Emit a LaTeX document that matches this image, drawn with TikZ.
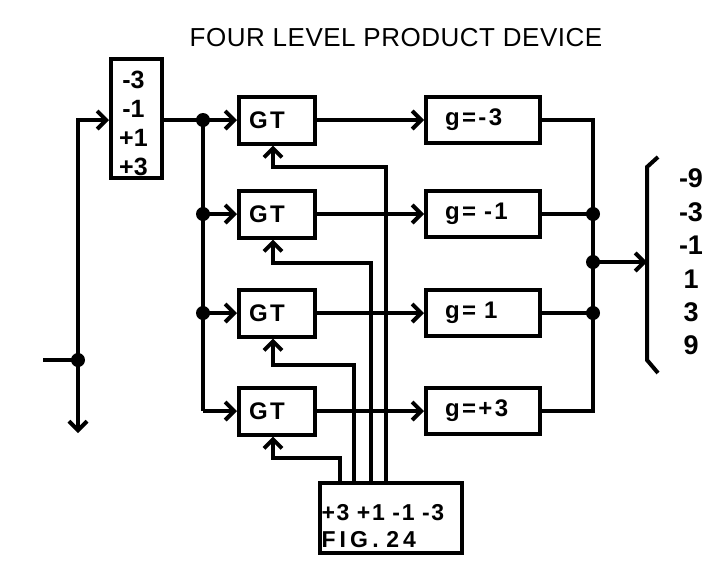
\documentclass[tikz,border=0pt]{standalone}
\usepackage{fontspec}
\setmainfont{Liberation Sans}
\usetikzlibrary{arrows.meta}
\begin{document}
\begin{tikzpicture}[x=1pt,y=-1pt, line width=4pt,
  box/.style={draw, rectangle, inner sep=0pt, line width=4pt, font=\bfseries\fontsize{24}{24}\selectfont\addfontfeature{LetterSpace=10}},
  gtbox/.style={box, minimum width=76pt, minimum height=47pt, text width=56pt, inner xsep=10pt, align=left},
  gbox/.style={box, minimum width=114pt, minimum height=46pt, text width=76pt, inner xsep=19pt, align=left},
  arr/.style={-{Straight Barb[length=9pt,width=18pt]}},
  dot/.style={circle, fill, inner sep=0pt, minimum size=14pt}]
\useasboundingbox (0,0) rectangle (714,563);
\node[anchor=base, font=\fontsize{26}{26}\selectfont] (title) at (396,46) {\addfontfeature{LetterSpace=2}FOUR LEVEL PRODUCT DEVICE};

% quantizer
\node[box, minimum width=51pt, minimum height=119pt,
  label={[yshift=-5pt, xshift=-3pt, align=center, font=\bfseries\fontsize{25}{29}\selectfont]center:{-3\\-1\\+1\\+3}}] (q) at (136.5,118.5) {};

% input
\coordinate (in) at (43,360);
\coordinate (j0) at (78,360);
\coordinate (c0) at (78,120);
\coordinate (out) at (78,433);
\draw (in) -- (j0);
\draw[arr] (j0) -- (out);
\draw[arr] (j0) -- (c0) -- (c0 -| q.west);
\node[dot] (d0) at (j0) {};

% GT boxes
\node[gtbox] (gt1) at (277,120) {GT};
\node[gtbox] (gt2) at (277,214) {GT};
\node[gtbox] (gt3) at (277,313) {GT};
\node[gtbox] (gt4) at (277,411) {GT};

% g boxes
\node[gbox] (g1) at (483,120) {g=-3};
\node[gbox] (g2) at (483,214) {g= -1};
\node[gbox] (g3) at (483,313) {g= 1};
\node[gbox] (g4) at (483,411) {g=+3};

% distribution
\coordinate (j1) at (203,120);
\coordinate (j2) at (203,214);
\coordinate (j3) at (203,313);
\coordinate (c4) at (203,411);
\draw (q.east |- j1) -- (j1);
\draw (j1) -- (c4);
\draw[arr] (j1) -- (gt1.west);
\draw[arr] (j2) -- (gt2.west);
\draw[arr] (j3) -- (gt3.west);
\draw[arr] (c4) -- (gt4.west);
\node[dot] at (j1) {};
\node[dot] at (j2) {};
\node[dot] at (j3) {};

% GT to g
\draw[arr] (gt1.east) -- (g1.west);
\draw[arr] (gt2.east) -- (g2.west);
\draw[arr] (gt3.east) -- (g3.west);
\draw[arr] (gt4.east) -- (g4.west);

% output bus
\coordinate (b2) at (593,214);
\coordinate (bm) at (593,262);
\coordinate (b3) at (593,313);
\coordinate (b4) at (593,411);
\draw (g1.east) -| (b4) -- (g4.east);
\draw (g2.east) -- (b2);
\draw (g3.east) -- (b3);
\node[dot] at (b2) {};
\node[dot] at (bm) {};
\node[dot] at (b3) {};

% bracket
\coordinate (br1) at (658,157);
\coordinate (br2) at (647,167);
\coordinate (br3) at (647,360);
\coordinate (br4) at (658,373);
\coordinate (brm) at (647,262);
\draw (br1) -- (br2) -- (br3) -- (br4);
\draw[arr] (bm) -- (brm);
\node[font=\bfseries\fontsize{27}{33.4}\selectfont, align=center] (vals) at (691,262) {-9\\-3\\-1\\1\\3\\9};

% control box
\node[box, minimum width=142pt, minimum height=70pt,
  label={[yshift=-8pt, text width=139pt, align=left, font=\bfseries\fontsize{23}{27}\selectfont]center:{\addfontfeature{LetterSpace=7}+3 +1 -1 -3\\\addfontfeature{LetterSpace=18}FIG. 24}}] (fig) at (391,518) {};

\coordinate (t1) at (386,167);
\coordinate (t2) at (371,263);
\coordinate (t3) at (354,365);
\coordinate (t4) at (340,458);
\draw[arr] (t1 |- fig.north) -- (t1) -| ([xshift=-4pt]gt1.south);
\draw[arr] (t2 |- fig.north) -- (t2) -| ([xshift=-4pt]gt2.south);
\draw[arr] (t3 |- fig.north) -- (t3) -| ([xshift=-4pt]gt3.south);
\draw[arr] (t4 |- fig.north) -- (t4) -| ([xshift=-4pt]gt4.south);
\end{tikzpicture}
\end{document}
